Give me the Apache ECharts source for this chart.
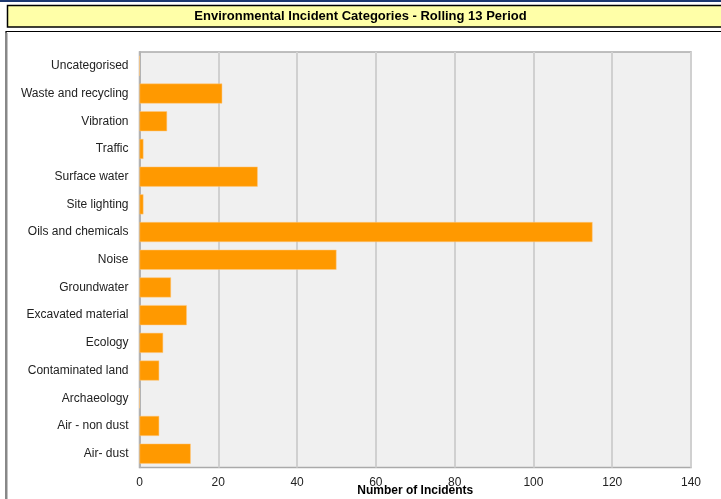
<!DOCTYPE html>
<html><head><meta charset="utf-8">
<script src="https://cdn.jsdelivr.net/npm/echarts@6/dist/echarts.min.js"></script>
<style>html,body{margin:0;padding:0;background:#fff}#c{width:721px;height:499px}</style>
</head><body><div id="c"></div>
<script>
var categories = ["Air- dust","Air - non dust","Archaeology","Contaminated land","Ecology","Excavated material","Groundwater","Noise","Oils and chemicals","Site lighting","Surface water","Traffic","Vibration","Waste and recycling","Uncategorised"];
var incidents = [13,5,0,5,6,12,8,50,115,1,30,1,7,21,0];
var xTicks = [0,20,40,60,80,100,120,140];
var titleText = "Environmental Incident Categories - Rolling 13 Period";
var xName = "Number of Incidents";

var chart = echarts.init(document.getElementById('c'), null, {renderer:'canvas'});
chart.setOption({
  animation:false,
  backgroundColor:'#fff',
  textStyle:{fontFamily:'Liberation Sans, Arial, sans-serif'},
  graphic:[
    {type:'rect', shape:{x:0,y:0,width:721,height:2}, style:{fill:'#1c3770'}, z:0},
    {type:'rect', shape:{x:7.5,y:5.5,width:720,height:21.5}, style:{fill:'#ffffa8',stroke:'#000',lineWidth:1.5}, z:0},
    {type:'rect', shape:{x:6,y:31.5,width:720,height:480}, style:{fill:'none',stroke:'#000',lineWidth:1.2}, z:0},
    {type:'rect', shape:{x:5,y:33,width:2.5,height:470}, style:{fill:'#888'}, z:1},
    {type:'text', x:360.5, y:16.5, style:{text:titleText, fill:'#000', font:'bold 13px "Liberation Sans", Arial, sans-serif', textAlign:'center', textVerticalAlign:'middle'}, z:2}
  ],
  grid:{left:139.5, right:30, top:52, bottom:31.5, show:true, backgroundColor:'#f0f0f0', borderColor:'#aaa', borderWidth:1.5, containLabel:false, outerBoundsMode:'none'},
  xAxis:{type:'value', min:xTicks[0], max:xTicks[xTicks.length-1], interval:20,
    name:xName, nameLocation:'middle', nameGap:17, nameMoveOverlap:false,
    nameTextStyle:{fontWeight:'bold', fontSize:12, color:'#000', fontFamily:'Liberation Sans, Arial, sans-serif'},
    axisLine:{show:false}, axisTick:{show:false},
    axisLabel:{color:'#222', fontSize:12, margin:9},
    splitLine:{show:true, lineStyle:{color:'#d0d0d0', width:2}}},
  yAxis:{type:'category', data:categories,
    axisLine:{show:true, lineStyle:{color:'#aaa', width:1.5}}, axisTick:{show:false},
    axisLabel:{color:'#222', fontSize:12, margin:11}},
  series:[{type:'bar', data:incidents, barWidth:20,
    itemStyle:{color:'#ff9900', borderColor:'#ffc880', borderWidth:0.5}}]
});
</script></body></html>
